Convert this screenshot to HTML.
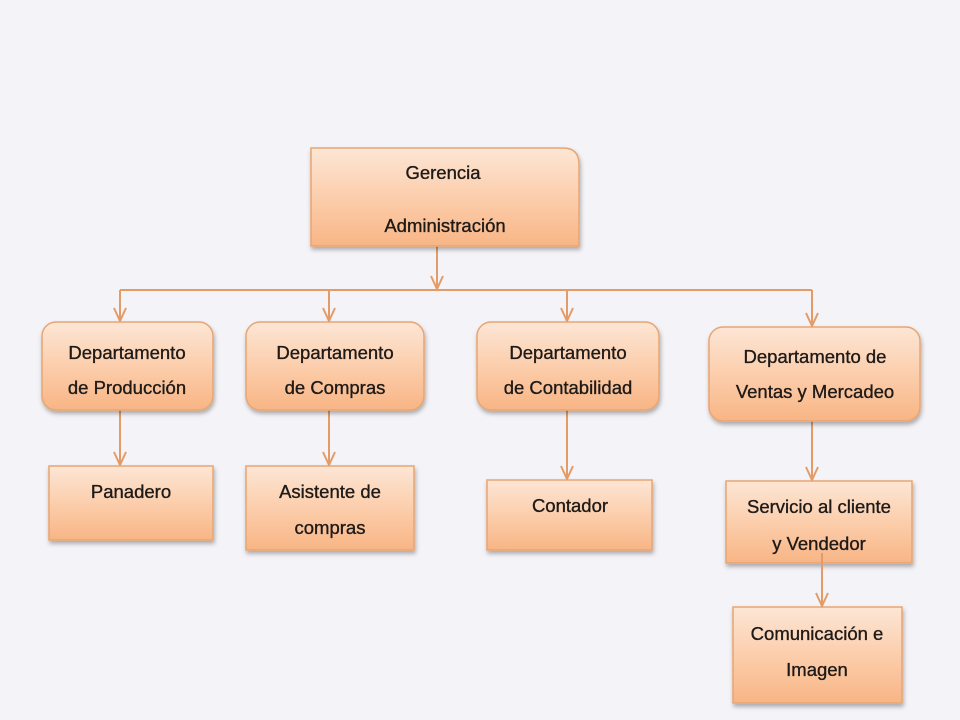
<!DOCTYPE html>
<html><head><meta charset="utf-8"><style>
html,body{margin:0;padding:0;background:#f4f3f7;}
svg{display:block;}
text{font-family:"Liberation Sans",sans-serif;font-size:18.5px;fill:#1e1a18;stroke:#1e1a18;stroke-width:0.35;text-anchor:middle;}
</style></head><body>
<svg width="960" height="720" viewBox="0 0 960 720" xmlns="http://www.w3.org/2000/svg">
<defs>
<linearGradient id="g" x1="0" y1="0" x2="0" y2="1">
<stop offset="0" stop-color="#fde6d5"/><stop offset="0.6" stop-color="#fbc9a4"/><stop offset="1" stop-color="#f8b585"/>
</linearGradient>
<filter id="s" x="-10%" y="-10%" width="130%" height="140%"><feDropShadow dx="1" dy="3" stdDeviation="2" flood-color="#000" flood-opacity="0.3"/></filter>
</defs>
<g fill="none" stroke="#e39c68" stroke-width="2">
<line x1="437" y1="246" x2="437" y2="289"/><polyline points="431,276 437,289 443,276"/>
<line x1="120" y1="290" x2="812" y2="290"/>
<line x1="120" y1="290" x2="120" y2="321"/><polyline points="114,308 120,321 126,308"/>
<line x1="329" y1="290" x2="329" y2="321"/><polyline points="323,308 329,321 335,308"/>
<line x1="567" y1="290" x2="567" y2="321"/><polyline points="561,308 567,321 573,308"/>
<line x1="812" y1="290" x2="812" y2="326"/><polyline points="806,313 812,326 818,313"/>
<line x1="120" y1="410" x2="120" y2="465"/><polyline points="114,452 120,465 126,452"/>
<line x1="329" y1="410" x2="329" y2="465"/><polyline points="323,452 329,465 335,452"/>
<line x1="567" y1="410" x2="567" y2="479"/><polyline points="561,466 567,479 573,466"/>
<line x1="812" y1="421" x2="812" y2="480"/><polyline points="806,467 812,480 818,467"/>
</g>
<g fill="url(#g)" stroke="#e7a572" stroke-width="1.5" filter="url(#s)">
<path d="M311,148 H563 Q579,148 579,164 V246 H311 Z"/>
<rect x="42" y="322" width="171" height="88" rx="14"/>
<rect x="246" y="322" width="178" height="88" rx="14"/>
<rect x="477" y="322" width="182" height="88" rx="14"/>
<rect x="709" y="327" width="211" height="94" rx="14"/>
<rect x="49" y="466" width="164" height="74"/>
<rect x="246" y="466" width="168" height="84"/>
<rect x="487" y="480" width="165" height="70"/>
<rect x="726" y="481" width="186" height="82"/>
<rect x="733" y="607" width="169" height="96"/>
</g>
<g fill="none" stroke="#e39c68" stroke-width="2">
<line x1="822" y1="553" x2="822" y2="606"/><polyline points="816,593 822,606 828,593"/>
</g>
<text x="443" y="179">Gerencia</text>
<text x="445" y="232">Administración</text>
<text x="127" y="359">Departamento</text>
<text x="127" y="394">de Producción</text>
<text x="335" y="359">Departamento</text>
<text x="335" y="394">de Compras</text>
<text x="568" y="359">Departamento</text>
<text x="568" y="394">de Contabilidad</text>
<text x="815" y="363">Departamento de</text>
<text x="815" y="398">Ventas y Mercadeo</text>
<text x="131" y="498">Panadero</text>
<text x="330" y="498">Asistente de</text>
<text x="330" y="534">compras</text>
<text x="570" y="512">Contador</text>
<text x="819" y="513">Servicio al cliente</text>
<text x="819" y="550">y Vendedor</text>
<text x="817" y="640">Comunicación e</text>
<text x="817" y="676">Imagen</text>
</svg>
</body></html>
